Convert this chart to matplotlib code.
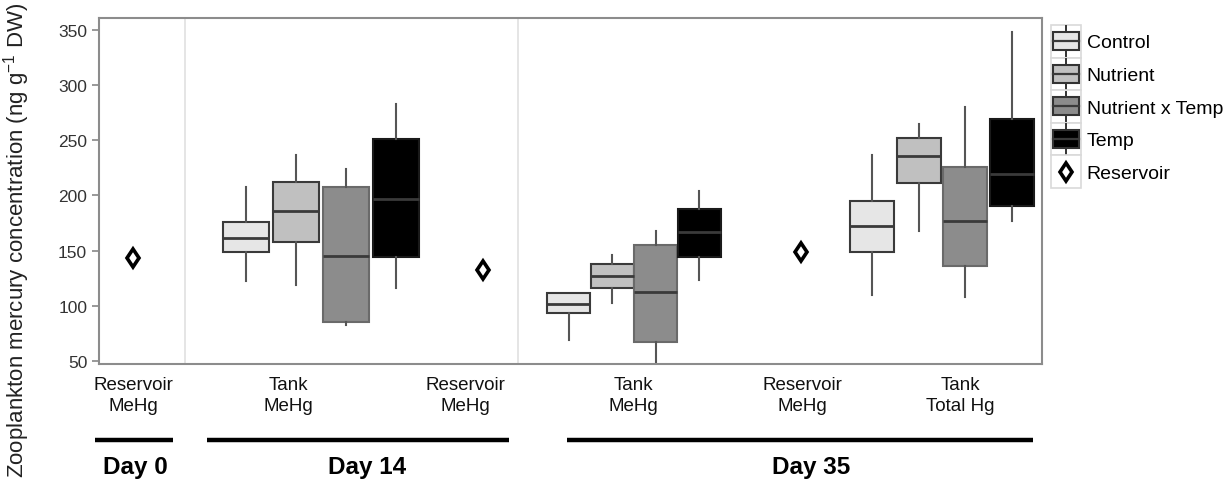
import numpy as np
import matplotlib
matplotlib.use('Agg')
import matplotlib.pyplot as plt
import matplotlib.transforms as mtransforms
from matplotlib.lines import Line2D
from matplotlib.patches import Rectangle
from matplotlib.legend_handler import HandlerBase

plt.rcParams['font.family'] = ['Liberation Sans', 'DejaVu Sans']
plt.rcParams['mathtext.fontset'] = 'custom'
plt.rcParams['mathtext.rm'] = 'Liberation Sans'
plt.rcParams['mathtext.default'] = 'regular'

# data
treatments = ['Control', 'Nutrient', 'Nutrient x Temp', 'Temp']

# Day 14, tank MeHg
d14_whislo = [122, 119, 82, 116]
d14_q1 = [149, 158, 85, 144]
d14_med = [161, 186, 145, 197]
d14_q3 = [176, 212, 208, 251]
d14_whishi = [208, 237, 224, 283]

# Day 35, tank MeHg
d35_whislo = [69, 102, 42, 123]
d35_q1 = [93, 116, 67, 144]
d35_med = [101, 127, 112, 167]
d35_q3 = [111, 138, 155, 188]
d35_whishi = [111, 146, 168, 204]

# Day 35, tank total Hg
thg_whislo = [110, 168, 108, 177]
thg_q1 = [149, 211, 136, 190]
thg_med = [172, 236, 177, 219]
thg_q3 = [195, 252, 226, 269]
thg_whishi = [237, 265, 280, 348]

# reservoir MeHg on day 0, 14, 35
reservoir = [143, 132, 149]

cat_labels = ['Reservoir\nMeHg', 'Tank\nMeHg', 'Reservoir\nMeHg',
              'Tank\nMeHg', 'Reservoir\nMeHg', 'Tank\nTotal Hg']
day_labels = ['Day 0', 'Day 14', 'Day 35']

# layout (x in axes units, 1 unit = 100 px)
fills = ['#e6e6e6', '#c0c0c0', '#8c8c8c', '#000000']
edges = ['#3a3a3a', '#3a3a3a', '#6a6a6a', '#1a1a1a']
res_x = [0.34, 3.84, 7.02]
groups = [(2.22, 0.50, 0.46), (5.35, 0.435, 0.43), (8.43, 0.465, 0.44)]
offs = np.array([-1.5, -0.5, 0.5, 1.5])
seps = [0.86, 4.19]
label_x = [0.34, 1.89, 3.66, 5.34, 7.03, 8.61]
day_x = [0.365, 2.685, 7.12]
day_lines = [(-0.04, 0.74), (1.08, 4.10), (4.68, 9.34)]

fig = plt.figure(figsize=(12.29, 4.85), dpi=100)
ax = fig.add_axes([99 / 1229, 1 - 365 / 485, 943 / 1229, 346 / 485])

for s in seps:
    ax.axvline(s, color='#e0e0e0', lw=1.2, zorder=0)

data = [(d14_whislo, d14_q1, d14_med, d14_q3, d14_whishi),
        (d35_whislo, d35_q1, d35_med, d35_q3, d35_whishi),
        (thg_whislo, thg_q1, thg_med, thg_q3, thg_whishi)]

for (lo, q1, med, q3, hi), (cx, step, w) in zip(data, groups):
    for i in range(4):
        st = [dict(whislo=lo[i], q1=q1[i], med=med[i], q3=q3[i],
                   whishi=hi[i], fliers=[])]
        ax.bxp(st, positions=[cx + offs[i] * step], widths=w,
               patch_artist=True, showcaps=False,
               boxprops=dict(facecolor=fills[i], edgecolor=edges[i], lw=1.5),
               medianprops=dict(color='#3a3a3a', lw=2),
               whiskerprops=dict(color='#555555', lw=1.5),
               manage_ticks=False)

ax.plot(res_x, reservoir, ls='none', marker='d', ms=9.5, mew=2.6,
        mfc='white', mec='black', zorder=5)

ax.set_xlim(0, 9.43)
ax.set_ylim(47, 361)
ax.set_yticks([50, 100, 150, 200, 250, 300, 350])
ax.set_xticks([])
ax.tick_params(axis='y', labelsize=12.5, colors='#888888', labelcolor='#333333',
               length=5, width=1.2)
for sp in ax.spines.values():
    sp.set_color('#8c8c8c')
    sp.set_linewidth(1.5)

fig.text(17 / 1229, 0.505, 'Zooplankton mercury concentration (ng g$^{-1}$ DW)',
         rotation=90, ha='center', va='center', fontsize=16, color='#222222')

# category labels, underlines and day labels below the axes
tr = mtransforms.blended_transform_factory(ax.transData, fig.transFigure)
for x, t in zip(label_x, cat_labels):
    fig.text(x, 1 - 396 / 485, t, transform=tr, ha='center', va='center',
             fontsize=13.5, linespacing=1.3, color='#111111')
for (x0, x1) in day_lines:
    fig.add_artist(Line2D([x0, x1], [1 - 441 / 485] * 2, transform=tr,
                          color='black', lw=3.2, solid_capstyle='butt'))
for x, t in zip(day_x, day_labels):
    fig.text(x, 1 - 468 / 485, t, transform=tr, ha='center', va='center',
             fontsize=17.5, fontweight='bold', color='black')


class BoxKey(HandlerBase):
    def create_artists(self, legend, orig_handle, xdescent, ydescent,
                       width, height, fontsize, trans):
        x0, y0 = -xdescent, -ydescent
        out = [Rectangle((x0, y0), width, height, facecolor='white',
                         edgecolor='#d9d9d9', lw=1.2, transform=trans)]
        cx, cy = x0 + width / 2, y0 + height / 2
        fc, ec = orig_handle
        if fc is None:
            out.append(Line2D([cx], [cy], marker='d', ms=9.5, mew=2.6,
                              mfc='white', mec='black', transform=trans))
            return out
        out.append(Line2D([cx, cx], [y0 + 1, y0 + height - 1],
                          color='#333333', lw=1.4, transform=trans))
        bw, bh = width * 0.88, height * 0.55
        out.append(Rectangle((cx - bw / 2, cy - bh / 2), bw, bh,
                             facecolor=fc, edgecolor=ec, lw=1.5,
                             transform=trans))
        out.append(Line2D([cx - bw / 2, cx + bw / 2], [cy, cy],
                          color='#3a3a3a', lw=1.6, transform=trans))
        return out


handles = [(fills[i], '#333333') for i in range(4)] + [(None, None)]
labels = treatments + ['Reservoir']
fig.legend(handles, labels, handler_map={tuple: BoxKey()},
           loc='upper left', bbox_to_anchor=(1051 / 1229, 1 - 26 / 485),
           frameon=False, fontsize=14, handlelength=1.55, handleheight=2.2,
           labelspacing=0.0, handletextpad=0.28, borderpad=0, borderaxespad=0)

fig.savefig('out.png', dpi=100)
